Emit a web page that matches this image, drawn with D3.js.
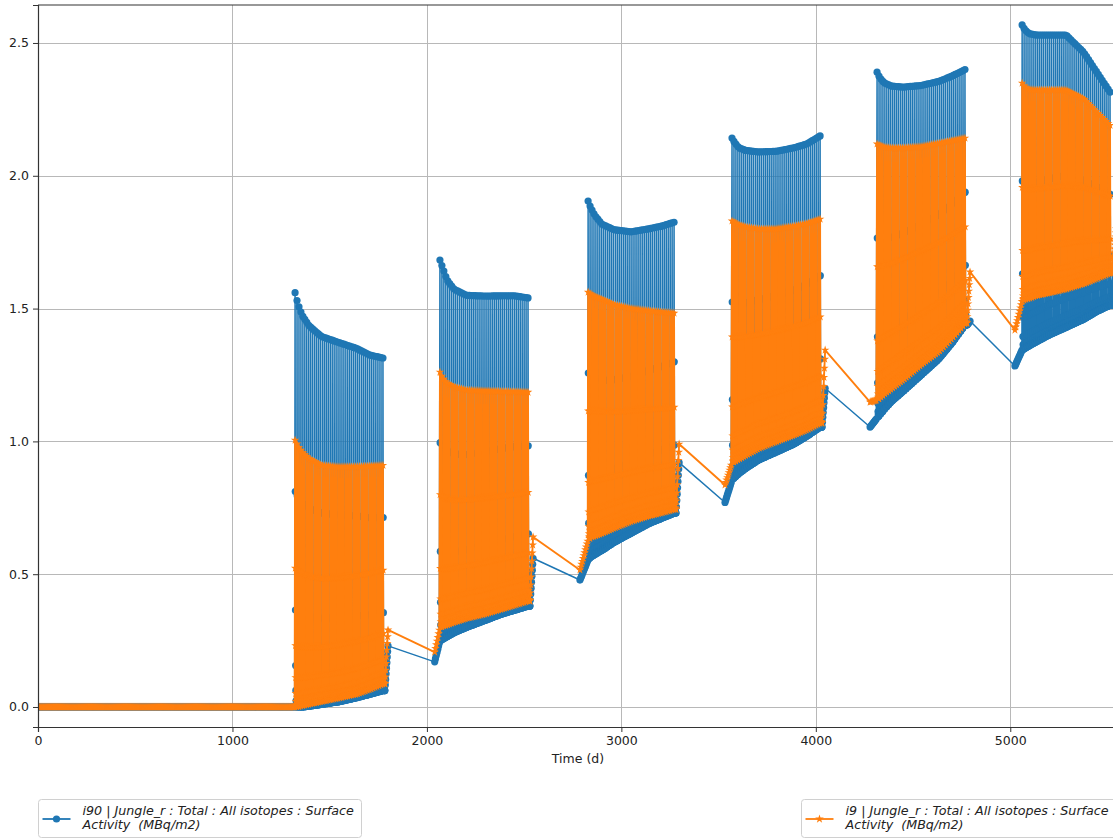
<!DOCTYPE html>
<html>
<head>
<meta charset="utf-8">
<script src="https://cdn.jsdelivr.net/npm/d3@7"></script>
<style>
  body { margin: 0; background: #fff; }
  svg { display: block; }
  text { font-family: "DejaVu Sans", sans-serif; fill: #222; white-space: pre; }
</style>
</head>
<body>
<svg id="chart" width="1113" height="839"></svg>
<script>
// ---------------- data ----------------
const xTicks = [0, 1000, 2000, 3000, 4000, 5000];
const yTicks = [0, 0.5, 1.0, 1.5, 2.0, 2.5];
const xLabel = "Time (d)";
const seriesLabels = [
  ["i90 | Jungle_r : Total : All isotopes : Surface", "Activity  (MBq/m2)"],
  ["i9 | Jungle_r : Total : All isotopes : Surface", "Activity  (MBq/m2)"]
];

// growing seasons (days)
const seasonStart = [1322, 2067, 2829, 3569, 4315, 5061];
const seasonEnd   = [1774, 2520, 3271, 4022, 4767, 5513];
const cycleDays = 10;

// envelope knots: relative position within a season
const envPos = [0, 0.03, 0.08, 0.16, 0.3, 0.5, 0.7, 0.85, 1];

// i90: peak (just after application) and trough values per season
const i90High = [
  [1.56, 1.52, 1.475, 1.435, 1.395, 1.372, 1.35, 1.325, 1.314],
  [1.683, 1.655, 1.608, 1.573, 1.55, 1.547, 1.548, 1.548, 1.54],
  [1.905, 1.88, 1.85, 1.818, 1.797, 1.789, 1.80, 1.81, 1.825],
  [2.142, 2.125, 2.105, 2.095, 2.09, 2.092, 2.105, 2.12, 2.15],
  [2.39, 2.37, 2.35, 2.338, 2.334, 2.34, 2.355, 2.375, 2.40],
  [2.568, 2.55, 2.535, 2.53, 2.53, 2.53, 2.465, 2.39, 2.315]
];
const i90Low = [
  [0.0, 0.0, 0.0, 0.003, 0.01, 0.02, 0.035, 0.048, 0.062],
  [0.25, 0.255, 0.265, 0.28, 0.30, 0.325, 0.35, 0.365, 0.38],
  [0.555, 0.565, 0.575, 0.59, 0.62, 0.655, 0.69, 0.71, 0.73],
  [0.855, 0.865, 0.88, 0.90, 0.93, 0.96, 0.99, 1.02, 1.054],
  [1.088, 1.10, 1.12, 1.15, 1.19, 1.25, 1.31, 1.37, 1.438],
  [1.344, 1.35, 1.36, 1.375, 1.40, 1.43, 1.46, 1.49, 1.513]
];
// i9: peak and trough values per season
const i9High = [
  [1.005, 0.985, 0.96, 0.935, 0.91, 0.904, 0.905, 0.907, 0.91],
  [1.261, 1.24, 1.22, 1.205, 1.193, 1.19, 1.188, 1.187, 1.185],
  [1.562, 1.555, 1.545, 1.535, 1.515, 1.50, 1.492, 1.487, 1.483],
  [1.83, 1.825, 1.815, 1.807, 1.80, 1.80, 1.81, 1.82, 1.837],
  [2.12, 2.115, 2.108, 2.105, 2.105, 2.11, 2.122, 2.132, 2.142],
  [2.349, 2.335, 2.325, 2.323, 2.323, 2.323, 2.29, 2.24, 2.19]
];
const i9Low = [
  [0.0, 0.002, 0.006, 0.012, 0.022, 0.035, 0.05, 0.068, 0.088],
  [0.30, 0.305, 0.31, 0.32, 0.335, 0.35, 0.37, 0.385, 0.40],
  [0.63, 0.64, 0.645, 0.655, 0.675, 0.70, 0.72, 0.732, 0.745],
  [0.92, 0.925, 0.935, 0.95, 0.975, 1.0, 1.025, 1.045, 1.07],
  [1.156, 1.165, 1.18, 1.20, 1.235, 1.29, 1.34, 1.39, 1.446],
  [1.53, 1.535, 1.54, 1.55, 1.56, 1.575, 1.595, 1.615, 1.634]
];

// daily decline after each application, as share of peak-to-trough range
const i90Decay = [1, 0.52, 0.234, 0.1, 0.04, 0.015, 0.005, 0, 0, 0];
const i9Decay  = [1, 0.52, 0.23, 0.11, 0.05, 0.02, 0.007, 0, 0, 0];

// post-season build-up and pre-season values
const tailTopDay  = [1800, 2546, 3297, 4048, 4793, 5545];
const i90TailTop  = [0.23, 0.56, 0.92, 1.20, 1.453, 1.66];
const i9TailTop   = [0.29, 0.64, 0.99, 1.344, 1.638, 1.80];
const preStartDay = [0, 2040, 2787, 3533, 4279, 5024];
const i90PreStart = [0, 0.17, 0.478, 0.77, 1.054, 1.284];
const i9PreStart  = [0, 0.207, 0.516, 0.836, 1.148, 1.419];

// ---------------- series assembly ----------------
function buildSeries(high, low, decay, tailTop, preStart) {
  const pts = [];
  for (let t = 0; t < seasonStart[0]; t += 5) pts.push([t, 0]);
  seasonStart.forEach((start, s) => {
    const end = seasonEnd[s];
    if (s > 0) {
      const ramp = d3.scaleLinear().domain([preStartDay[s], start]).range([preStart[s], low[s][0]]);
      for (let t = preStartDay[s]; t < start; t += 4) pts.push([t, ramp(t)]);
    }
    const dur = end - start;
    const hiS = d3.scaleLinear().domain(envPos).range(high[s]).clamp(true);
    const loS = d3.scaleLinear().domain(envPos).range(low[s]).clamp(true);
    const n = Math.round(dur / cycleDays);
    const step = dur / n;
    for (let k = 0; k <= n; k++) {
      const tc = start + k * step;
      const hi = hiS((tc - start) / dur);
      decay.forEach((f, d) => {
        const t = tc + d;
        const lo = loS((t - start) / dur);
        pts.push([t, lo + (hi - lo) * f]);
      });
    }
    const tEnd = end + decay.length;
    const climb = d3.scaleLinear().domain([tEnd, tailTopDay[s]]).range([loS(1), tailTop[s]]);
    for (let t = tEnd; t <= tailTopDay[s]; t += 2) pts.push([t, climb(t)]);
  });
  return pts;
}

const i90 = buildSeries(i90High, i90Low, i90Decay, i90TailTop, i90PreStart);
const i9  = buildSeries(i9High, i9Low, i9Decay, i9TailTop, i9PreStart);

// ---------------- drawing ----------------
const svg = d3.select("#chart");
const margin = { left: 38, top: 5, right: 1118, bottom: 727 };
const x = d3.scaleLinear().domain([0, 5554]).range([margin.left, margin.right]);
const y = d3.scaleLinear().domain([-0.0753, 2.643]).range([margin.bottom, margin.top]);

const colors = ["#1f77b4", "#ff7f0e"];
const lineWidths = [1.5, 1.9];

svg.append("defs").append("clipPath").attr("id", "plotClip")
  .append("rect").attr("x", margin.left).attr("y", margin.top)
  .attr("width", margin.right - margin.left).attr("height", margin.bottom - margin.top);

// grid
const grid = svg.append("g").attr("stroke", "#b8b8b8").attr("stroke-width", 1);
grid.selectAll("line.v").data(xTicks).join("line")
  .attr("x1", d => Math.round(x(d)) + 0.5).attr("x2", d => Math.round(x(d)) + 0.5)
  .attr("y1", margin.top).attr("y2", margin.bottom);
grid.selectAll("line.h").data(yTicks).join("line")
  .attr("y1", d => Math.round(y(d)) + 0.5).attr("y2", d => Math.round(y(d)) + 0.5)
  .attr("x1", margin.left).attr("x2", margin.right);

// star marker path
function starPath(R) {
  const r = R * 0.382;
  let p = "";
  for (let i = 0; i < 10; i++) {
    const a = -Math.PI / 2 + i * Math.PI / 5;
    const rad = i % 2 === 0 ? R : r;
    p += (i === 0 ? "M" : "L") + (rad * Math.cos(a)).toFixed(2) + "," + (rad * Math.sin(a)).toFixed(2);
  }
  return p + "Z";
}
const circlePath = d3.symbol(d3.symbolCircle, Math.PI * 3.6 * 3.6)();
const star = starPath(4.5);

const line = d3.line().x(d => x(d[0])).y(d => y(d[1]));
const plot = svg.append("g").attr("clip-path", "url(#plotClip)");

// split a series into short overlapping runs so each path stays small
function chunks(data, size) {
  const out = [];
  for (let i = 0; i < data.length - 1; i += size) out.push(data.slice(i, i + size + 1));
  return out;
}

[[i90, circlePath], [i9, star]].forEach(([data, shape], i) => {
  const g = plot.append("g");
  g.append("g").selectAll("path").data(chunks(data, 40)).join("path")
    .attr("d", line)
    .attr("fill", "none").attr("stroke", colors[i]).attr("stroke-width", lineWidths[i])
    .attr("stroke-linejoin", "round");
  g.append("g").selectAll("path").data(data).join("path")
    .attr("d", shape)
    .attr("transform", d => `translate(${x(d[0]).toFixed(2)},${y(d[1]).toFixed(2)})`)
    .attr("fill", colors[i]);
});

// axes
const xAxis = svg.append("g").attr("transform", `translate(0,${margin.bottom})`)
  .call(d3.axisBottom(x).tickValues(xTicks).tickFormat(d3.format("d")).tickSize(5).tickPadding(4));
const yAxis = svg.append("g").attr("transform", `translate(${margin.left},0)`)
  .call(d3.axisLeft(y).tickValues(yTicks).tickFormat(d3.format(".1f")).tickSize(5).tickPadding(4));
[xAxis, yAxis].forEach(a => {
  a.selectAll("text").attr("font-size", 12.5).attr("font-family", "DejaVu Sans").attr("fill", "#222");
  a.selectAll("line").attr("stroke", "#333");
  a.select(".domain").attr("stroke", "#333").attr("stroke-width", 1.2);
});
// top spine
svg.append("line").attr("x1", margin.left).attr("x2", margin.right)
  .attr("y1", margin.top).attr("y2", margin.top).attr("stroke", "#333").attr("stroke-width", 1.2);

svg.append("text").attr("x", (margin.left + margin.right) / 2).attr("y", 763)
  .attr("text-anchor", "middle").attr("font-size", 12.5).text(xLabel);

// legend
const legendBoxes = [{ x: 38.5, w: 323 }, { x: 801.5, w: 330 }];
legendBoxes.forEach((b, i) => {
  const g = svg.append("g");
  g.append("rect").attr("x", b.x).attr("y", 799.5).attr("width", b.w).attr("height", 38)
    .attr("rx", 3).attr("fill", "#fff").attr("stroke", "#d0d0d0");
  const hx = b.x + 4;
  g.append("line").attr("x1", hx).attr("x2", hx + 28).attr("y1", 819).attr("y2", 819)
    .attr("stroke", colors[i]).attr("stroke-width", 1.8);
  g.append("path").attr("d", i === 0 ? circlePath : star)
    .attr("transform", `translate(${hx + 14},819)`).attr("fill", colors[i]);
  const t = g.append("text").attr("font-size", 12.7).attr("font-style", "italic");
  seriesLabels[i].forEach((s, j) => {
    t.append("tspan").attr("x", hx + 40).attr("y", 815 + j * 14).text(s);
  });
});
</script>
</body>
</html>
